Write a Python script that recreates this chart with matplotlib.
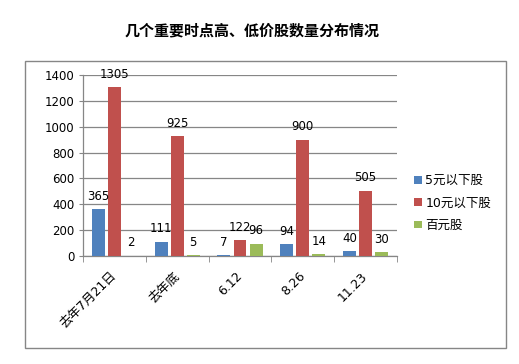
import matplotlib
matplotlib.use("Agg")
import matplotlib.pyplot as plt
from matplotlib.patches import Patch, Rectangle
import numpy as np

plt.rcParams['font.family'] = ['DejaVu Sans', 'Noto Sans CJK SC']

categories = ['去年7月21日', '去年底', '6.12', '8.26', '11.23']
series_names = ['5元以下股', '10元以下股', '百元股']
s_under5 = [365, 111, 7, 94, 40]
s_under10 = [1305, 925, 122, 900, 505]
s_hundred = [2, 5, 96, 14, 30]
title = '几个重要时点高、低价股数量分布情况'
yticks = [0, 200, 400, 600, 800, 1000, 1200, 1400]

colors = ['#4F81BD', '#C0504D', '#9BBB59']
W, H = 519, 364
fig = plt.figure(figsize=(W / 100, H / 100), dpi=100)

# outer chart border
fig.patches.append(Rectangle((25 / W, 1 - 348 / H), (506 - 25) / W, (348 - 61) / H,
                             transform=fig.transFigure, fill=False,
                             edgecolor='#868686', linewidth=1.0))

fig.text(252 / W, 1 - 30 / H, title, ha='center', va='center', fontsize=10.8,
         fontweight='bold', family=['Noto Sans CJK SC', 'DejaVu Sans'])

ax = fig.add_axes([83 / W, 1 - 256 / H, (397 - 83) / W, (256 - 75) / H])

x = np.arange(len(categories))
bw = 0.207
step = 0.255
grid_c = '#868686'
for i, (vals, name) in enumerate(zip([s_under5, s_under10, s_hundred], series_names)):
    pos = x + (i - 1) * step
    bars = ax.bar(pos, vals, width=bw, color=colors[i], label=name, zorder=3)
    for b, v in zip(bars, vals):
        ax.annotate(str(v), (b.get_x() + b.get_width() / 2, b.get_height()),
                    xytext=(0, 4.5), textcoords='offset points',
                    ha='center', va='bottom', fontsize=8.5, color='black', zorder=4)

ax.set_xlim(-0.5, len(categories) - 0.5)
ax.set_ylim(0, 1400)
ax.set_yticks(yticks)
ax.set_yticklabels([str(t) for t in yticks], fontsize=8.5)
ax.yaxis.grid(True, color=grid_c, linewidth=0.9, zorder=0)
ax.set_axisbelow(True)
for s in ['top', 'right']:
    ax.spines[s].set_visible(False)
for s in ['left', 'bottom']:
    ax.spines[s].set_color(grid_c)
    ax.spines[s].set_linewidth(0.9)
ax.tick_params(axis='y', length=3, color=grid_c, pad=3)

ax.set_xticks(x)
ax.set_xticks(np.arange(-0.5, len(categories), 1), minor=True)
ax.tick_params(axis='x', which='major', length=0, pad=13)
ax.tick_params(axis='x', which='minor', length=4, color=grid_c)
ax.set_xticklabels(categories, rotation=45, ha='right', va='center',
                   rotation_mode='anchor', fontsize=9)

handles = [Patch(facecolor=c, edgecolor='none') for c in colors]
fig.legend(handles, series_names, loc='center left',
           bbox_to_anchor=(414 / W, 1 - 203 / H), frameon=False,
           fontsize=9, handlelength=0.6, handleheight=0.6,
           handletextpad=0.3, labelspacing=0.75, borderaxespad=0, borderpad=0)

fig.savefig('out.png', dpi=100)
